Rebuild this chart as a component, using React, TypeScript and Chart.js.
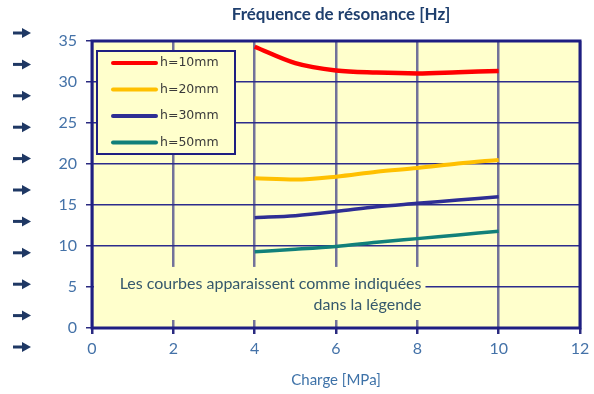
import React, { useEffect, useRef } from "react";
import { Chart, registerables } from "chart.js";

Chart.register(...registerables);

const TITLE = "Fréquence de résonance [Hz]";
const X_TITLE = "Charge [MPa]";
const NOTE_LINES = ["Les courbes apparaissent comme indiquées", "dans la légende"];

const CHARGE = [4, 5, 6, 7, 8, 9, 10];
const H10 = [34.3, 32.3, 31.4, 31.15, 31.05, 31.2, 31.35];
const H20 = [18.25, 18.1, 18.45, 19.05, 19.5, 20.05, 20.5];
const H30 = [13.45, 13.7, 14.2, 14.8, 15.2, 15.6, 16.0];
const H50 = [9.3, 9.6, 9.95, 10.45, 10.9, 11.35, 11.8];

const SERIES_LABELS = ["h=10mm", "h=20mm", "h=30mm", "h=50mm"];
const SERIES_VALUES = [H10, H20, H30, H50];
const SERIES_COLORS = ["#FF0000", "#FFC000", "#2E2E94", "#11807A"];
const SERIES_WIDTHS = [4.5, 4, 3.5, 3.5];

const X_MIN = 0, X_MAX = 12, X_STEP = 2;
const Y_MIN = 0, Y_MAX = 35, Y_STEP = 5;

const PLOT_BG = "#FFFFCC";
const FRAME = "#1E1E82";

const decorPlugin = {
  id: "decor",
  beforeDraw(chart: any) {
    const { ctx, chartArea: a } = chart;
    ctx.save();
    ctx.fillStyle = "#ffffff";
    ctx.fillRect(0, 0, chart.width, chart.height);
    ctx.fillStyle = PLOT_BG;
    ctx.fillRect(a.left, a.top, a.right - a.left, a.bottom - a.top);
    ctx.restore();
  },
  beforeDatasetsDraw(chart: any) {
    const { ctx, chartArea: a, scales } = chart;
    ctx.save();
    // note box covering grid
    const yTop = scales.y.getPixelForValue(7.45);
    const xRight = scales.x.getPixelForValue(8.2);
    ctx.fillStyle = PLOT_BG;
    ctx.fillRect(a.left + 2, yTop, xRight - a.left - 2, a.bottom - 8 - yTop);
    ctx.fillStyle = "#35586C";
    ctx.font = "16px Lato";
    ctx.textAlign = "right";
    ctx.textBaseline = "middle";
    ctx.fillText(NOTE_LINES[0], xRight - 4, yTop + 17);
    ctx.fillText(NOTE_LINES[1], xRight - 4, yTop + 38);
    // frame
    ctx.strokeStyle = FRAME;
    ctx.lineWidth = 3;
    ctx.strokeRect(a.left, a.top, a.right - a.left, a.bottom - a.top);
    ctx.restore();
  },
  afterDatasetsDraw(chart: any) {
    const { ctx, chartArea: a } = chart;
    ctx.save();
    // legend box
    const bx = a.left + 5, by = a.top + 10, bw = 138, bh = 103;
    ctx.fillStyle = PLOT_BG;
    ctx.fillRect(bx, by, bw, bh);
    ctx.strokeStyle = FRAME;
    ctx.lineWidth = 2;
    ctx.strokeRect(bx, by, bw, bh);
    ctx.font = "12.5px 'DejaVu Sans'";
    ctx.textBaseline = "middle";
    ctx.textAlign = "left";
    SERIES_LABELS.forEach((lab, i) => {
      const y = by + 12 + i * 26.5;
      ctx.strokeStyle = SERIES_COLORS[i];
      ctx.lineWidth = 4;
      ctx.lineCap = "round";
      ctx.beginPath();
      ctx.moveTo(bx + 16, y);
      ctx.lineTo(bx + 59, y);
      ctx.stroke();
      ctx.fillStyle = "#3a3a3a";
      ctx.fillText(lab, bx + 63, y);
    });
    ctx.restore();
  },
  afterDraw(chart: any) {
    const { ctx } = chart;
    ctx.save();
    // title
    ctx.fillStyle = "#1F3F6E";
    ctx.font = "bold 17px Lato";
    ctx.textAlign = "center";
    ctx.textBaseline = "middle";
    ctx.fillText(TITLE, 341, 15);
    // left arrows (decoration)
    ctx.fillStyle = "#1F3864";
    ctx.strokeStyle = "#1F3864";
    for (let i = 0; i < 11; i++) {
      const y = 33 + i * 31.4;
      ctx.lineWidth = 3;
      ctx.beginPath();
      ctx.moveTo(13, y);
      ctx.lineTo(25, y);
      ctx.stroke();
      ctx.beginPath();
      ctx.moveTo(22, y - 5);
      ctx.lineTo(31, y);
      ctx.lineTo(22, y + 5);
      ctx.closePath();
      ctx.fill();
    }
    ctx.restore();
  },
};

export default function App() {
  const ref = useRef<HTMLCanvasElement | null>(null);
  useEffect(() => {
    if (!ref.current) return;
    const chart = new Chart(ref.current, {
      type: "line",
      data: {
        datasets: SERIES_VALUES.map((vals, i) => ({
          label: SERIES_LABELS[i],
          data: CHARGE.map((x, j) => ({ x, y: vals[j] })),
          borderColor: SERIES_COLORS[i],
          backgroundColor: SERIES_COLORS[i],
          borderWidth: SERIES_WIDTHS[i],
          pointRadius: 0,
          cubicInterpolationMode: "monotone" as const,
          fill: false,
        })),
      },
      options: {
        animation: false,
        responsive: false,
        maintainAspectRatio: false,
        layout: { padding: { left: 0, right: 14, top: 41, bottom: 0 } },
        plugins: {
          legend: { display: false },
          title: { display: false },
          tooltip: { enabled: false },
        },
        scales: {
          x: {
            type: "linear",
            min: X_MIN,
            max: X_MAX,
            ticks: { stepSize: X_STEP, color: "#4472A8", font: { family: "Lato", size: 16 }, padding: 5 },
            grid: { color: "rgba(60,60,135,0.72)", lineWidth: 2.5, tickLength: 6, tickColor: "#2A2A80" },
            border: { display: false },
            title: { display: true, text: X_TITLE, color: "#3E72A8", font: { family: "Lato", size: 15 }, padding: { top: 0, bottom: 5 } },
            afterFit: (s: any) => {
              s.height = 66;
              s.paddingLeft = 0;
              s.paddingRight = 0;
            },
          },
          y: {
            min: Y_MIN,
            max: Y_MAX,
            ticks: { stepSize: Y_STEP, color: "#4472A8", font: { family: "Lato", size: 16 }, padding: 9 },
            grid: { color: "#2C2C8C", lineWidth: 1.5, tickLength: 6, tickColor: "#2A2A80" },
            border: { display: false },
            afterFit: (s: any) => {
              s.width = 92;
              s.paddingTop = 0;
              s.paddingBottom = 0;
            },
          },
        },
      },
      plugins: [decorPlugin],
    });
    return () => chart.destroy();
  }, []);
  return (
    <div style={{ position: "fixed", left: 0, top: 0, width: 594, height: 394, background: "#fff" }}>
      <canvas ref={ref} width={594} height={394} style={{ width: 594, height: 394 }} />
    </div>
  );
}
